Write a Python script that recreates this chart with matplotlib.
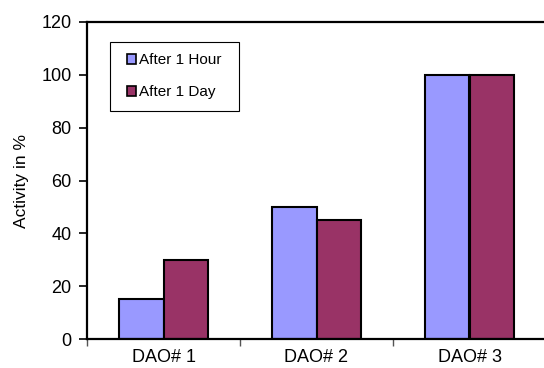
import matplotlib.pyplot as plt
import numpy as np
from matplotlib.patches import Patch

plt.rcParams["font.family"] = ["Liberation Sans", "DejaVu Sans"]
fs = 13
lw = 1.5

categories = ["DAO# 1", "DAO# 2", "DAO# 3"]
after_hour = [15, 50, 100]
after_day = [30, 45, 100]
series_labels = ["After 1 Hour", "After 1 Day"]
colors = ["#9999FF", "#993366"]

fig = plt.figure(figsize=(5.44, 3.68), dpi=100)
ax = fig.add_axes([87 / 544, 29 / 368, 459 / 544, 317 / 368])

x = np.arange(len(categories)) + 0.5
width = 0.288
ax.bar(x - width / 2, after_hour, width, color=colors[0], edgecolor="black", linewidth=lw)
ax.bar(x + width / 2, after_day, width, color=colors[1], edgecolor="black", linewidth=lw)

ax.set_xlim(0, 3)
ax.set_ylim(0, 120)
ax.set_yticks(range(0, 121, 20))
# category names sit between the boundary ticks
ax.set_xticks([0, 1, 2, 3])
ax.set_xticks(x, minor=True)
ax.set_xticklabels([])
ax.set_xticklabels(categories, minor=True, fontsize=fs)
ax.tick_params(axis="x", which="major", direction="out", length=5, width=1, color="#555555")
ax.tick_params(axis="x", which="minor", length=0, pad=7)
ax.tick_params(axis="y", direction="out", length=6, width=1.2, labelsize=fs, pad=5)

for side in ("left", "top", "bottom"):
    ax.spines[side].set_linewidth(1.6)
ax.spines["right"].set_visible(False)

ax.set_ylabel("Activity in %", fontsize=12.5, labelpad=9)

handles = [Patch(facecolor=c, edgecolor="black", linewidth=1.2) for c in colors]
leg = ax.legend(handles, series_labels, loc="upper left", bbox_to_anchor=(29 / 459, 1 - 20 / 317),
                borderaxespad=0, fontsize=11, handlelength=0.55, handleheight=0.55,
                handletextpad=0.2, labelspacing=1.18, borderpad=0.75, fancybox=False,
                framealpha=1, edgecolor="black")
frame = leg.get_frame()
frame.set_linewidth(0.8)
# extra horizontal padding only
frame.set_boxstyle("square", pad=0.4)
frame.set_mutation_aspect(0.01)

fig.savefig("out.png", dpi=100)
